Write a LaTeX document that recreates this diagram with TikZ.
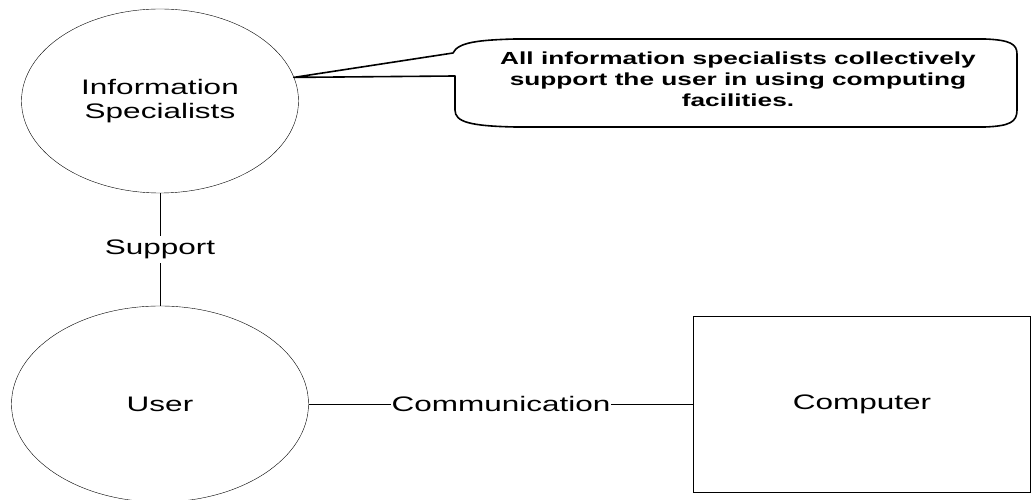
\documentclass[tikz,border=0pt]{standalone}
\usepackage{fontspec}
\setmainfont{Liberation Sans}[FakeStretch=1.5]
\usepackage{tikz}
\usetikzlibrary{shapes, calc, positioning}
\tikzset{
    auto, line width=0.9pt, node distance =1.1 cm and 1.1 cm,% the distances are set per node below
    state/.style ={ellipse, draw, outer sep=0pt, inner sep=0pt, align=center}, % ellipse for the actors
    box/.style = {rectangle, draw, outer sep=0pt, minimum width=337pt, minimum height=176pt},
    el/.style = {fill=white, inner xsep=0.5pt, inner ysep=4pt},
    note/.style = {align=center, font=\bfseries\fontsize{17.5}{21}\selectfont}
}
\begin{document}
\begin{tikzpicture}[x=1pt, y=1pt, font=\fontsize{21}{24}\selectfont]
                \useasboundingbox (0,0) rectangle (1031,500);
                \node[state, minimum width=277pt, minimum height=184pt] (info) at (160,399) {Information\\Specialists}; % top ellipse
                \node[state, minimum width=297pt, minimum height=196pt] (user) [below =113pt of info] {User};
                \node[box] (computer) [right =385pt of user] {Computer};
                \node[note] (note) at (738,421) {All information specialists collectively\\support the user in using computing\\facilities.};
                \path (info) edge node[el, swap, anchor=center] {Support} (user); % it is the path between the two ellipses
                \path (user) edge node[el, anchor=center] {Communication} (computer);
                \coordinate (tip) at (info.10);
                \draw[line width=1.6pt, line join=round] (tip) -- (453,447)
                    .. controls (458,458) and (480,460) .. (515,461) -- (985,461)
                    .. controls (1010,460) and (1017,456) .. (1017,446) -- (1017,390)
                    .. controls (1017,378) and (1010,374) .. (985,373) -- (515,373)
                    .. controls (470,374) and (455,378) .. (455,390) -- (455,424) -- cycle;
            \end{tikzpicture}
\end{document}
